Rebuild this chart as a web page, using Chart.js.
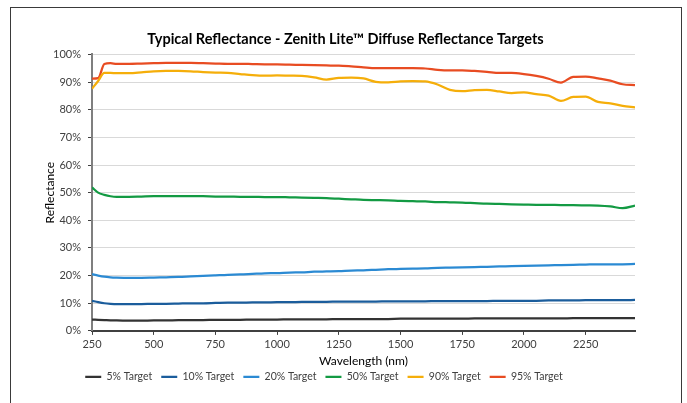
<!DOCTYPE html>
<html>
<head>
<meta charset="utf-8">
<script src="https://cdn.jsdelivr.net/npm/chart.js@4/dist/chart.umd.min.js"></script>
<style>
  html, body { margin: 0; padding: 0; background: #fff; }
  #wrap { width: 687px; height: 403px; }
</style>
</head>
<body>
<div id="wrap"><canvas id="linechart"></canvas></div>
<script>
// wavelength samples (nm)
var wavelengths = [250, 275, 300, 325, 350, 400, 450, 500, 550, 600, 650, 700, 750, 800, 850, 900, 950,
  1000, 1050, 1100, 1150, 1200, 1250, 1300, 1350, 1400, 1450, 1500, 1550, 1600, 1650, 1700, 1750,
  1800, 1850, 1900, 1950, 2000, 2050, 2100, 2150, 2200, 2250, 2300, 2350, 2400, 2450];

// reflectance, percent
var target5 = [4.1, 4.0, 3.9, 3.8, 3.8, 3.7, 3.7, 3.8, 3.8, 3.9, 3.9, 3.9, 4.0, 4.0, 4.0, 4.1, 4.1,
  4.1, 4.2, 4.2, 4.2, 4.2, 4.3, 4.3, 4.3, 4.3, 4.3, 4.4, 4.4, 4.4, 4.4, 4.4, 4.4,
  4.5, 4.5, 4.5, 4.5, 4.5, 4.5, 4.5, 4.5, 4.6, 4.6, 4.6, 4.6, 4.6, 4.6];
var target10 = [10.9, 10.4, 10.0, 9.8, 9.7, 9.7, 9.7, 9.8, 9.8, 9.9, 10.0, 10.0, 10.1, 10.2, 10.2, 10.3, 10.3,
  10.4, 10.4, 10.5, 10.5, 10.5, 10.6, 10.6, 10.6, 10.6, 10.7, 10.7, 10.7, 10.7, 10.8, 10.8, 10.8,
  10.8, 10.8, 10.9, 10.9, 10.9, 10.9, 11.0, 11.0, 11.0, 11.1, 11.1, 11.1, 11.1, 11.2];
var target20 = [20.5, 20.0, 19.6, 19.4, 19.3, 19.2, 19.2, 19.3, 19.4, 19.5, 19.7, 19.9, 20.1, 20.3, 20.4, 20.6, 20.8,
  20.9, 21.1, 21.2, 21.4, 21.5, 21.6, 21.8, 21.9, 22.1, 22.3, 22.4, 22.5, 22.6, 22.8, 22.9, 23.0,
  23.1, 23.2, 23.3, 23.4, 23.5, 23.6, 23.7, 23.8, 23.9, 24.0, 24.1, 24.1, 24.1, 24.2];
var target50 = [51.9, 50.0, 49.2, 48.7, 48.5, 48.5, 48.6, 48.7, 48.7, 48.7, 48.7, 48.7, 48.6, 48.6, 48.5, 48.5, 48.4,
  48.4, 48.3, 48.2, 48.1, 48.0, 47.8, 47.6, 47.4, 47.3, 47.2, 47.0, 46.9, 46.8, 46.6, 46.5, 46.4,
  46.2, 46.0, 45.9, 45.8, 45.7, 45.6, 45.6, 45.5, 45.5, 45.4, 45.3, 45.0, 44.4, 45.3];
var target90 = [87.6, 90.4, 93.3, 93.3, 93.2, 93.2, 93.5, 93.9, 94.0, 94.0, 93.9, 93.6, 93.4, 93.3, 92.9, 92.5, 92.3,
  92.4, 92.3, 92.2, 91.7, 90.9, 91.5, 91.6, 91.3, 90.1, 89.9, 90.2, 90.3, 90.2, 89.1, 87.2, 86.7,
  87.1, 87.2, 86.6, 86.0, 86.3, 85.6, 85.1, 83.2, 84.6, 84.7, 82.8, 82.3, 81.4, 80.8];
var target95 = [91.2, 91.4, 96.5, 96.8, 96.6, 96.6, 96.7, 96.8, 96.9, 96.9, 96.9, 96.8, 96.7, 96.6, 96.6, 96.5, 96.4,
  96.4, 96.3, 96.2, 96.1, 96.0, 95.9, 95.7, 95.3, 95.0, 95.0, 95.0, 95.0, 94.9, 94.4, 94.2, 94.2,
  94.0, 93.7, 93.3, 93.3, 92.9, 92.2, 91.2, 89.8, 91.9, 92.0, 91.3, 90.5, 89.2, 88.9];

var seriesNames = ['5% Target', '10% Target', '20% Target', '50% Target', '90% Target', '95% Target'];
var seriesData = [target5, target10, target20, target50, target90, target95];
var seriesColors = ['#333333', '#1b5d9c', '#2b8ad3', '#139a43', '#f5ae0a', '#e84c22'];

var xTicks = [250, 500, 750, 1000, 1250, 1500, 1750, 2000, 2250];

Chart.defaults.font.family = 'Lato';

function toPoints(vals) {
    return vals.map(function (v, i) { return { x: wavelengths[i], y: v }; });
}

var frame = {
    id: 'frame',
    beforeDraw: function (chart) {
        var ctx = chart.ctx;
        ctx.save();
        ctx.fillStyle = '#ffffff';
        ctx.fillRect(0, 0, chart.width, chart.height);
        ctx.strokeStyle = '#3a3a3a';
        ctx.lineWidth = 1;
        ctx.strokeRect(10.5, 7.5, 671, 420);
        ctx.restore();
    },
    // centre the title on the whole frame, not on the padded area
    afterLayout: function (chart) {
        var t = chart.titleBlock;
        if (t) {
            t.left = 10;
            t.right = 681;
            t.width = 671;
        }
    }
};

var chart1 = document.getElementById("linechart");

var myChart1 = new Chart(chart1, {
    type: 'line',
    data: {
        datasets: seriesNames.map(function (name, i) {
            return {
                label: name,
                data: toPoints(seriesData[i]),
                borderColor: seriesColors[i],
                backgroundColor: seriesColors[i],
                borderWidth: 2.25,
                pointRadius: 0,
                fill: false,
                cubicInterpolationMode: 'monotone'
            };
        })
    },
    options: {
        responsive: true,
        maintainAspectRatio: false,
        animation: false,
        layout: {
            padding: { left: 13, right: 52, top: 0, bottom: 11 }
        },
        scales: {
            x: {
                type: 'linear',
                min: 250,
                max: 2450,
                afterBuildTicks: function (scale) {
                    scale.ticks = xTicks.map(function (v) { return { value: v }; });
                },
                grid: { drawOnChartArea: false, tickLength: 4, tickColor: '#404040' },
                border: { color: '#404040', width: 2 },
                ticks: {
                    color: '#404040',
                    font: { size: 11 },
                    padding: 3,
                    maxRotation: 0,
                    callback: function (v) { return String(v); }
                },
                title: {
                    display: true,
                    text: 'Wavelength (nm)',
                    color: '#000000',
                    font: { size: 12 },
                    padding: { top: 0, bottom: -6 }
                }
            },
            y: {
                min: 0,
                max: 100,
                afterFit: function (scale) { scale.width = 79; },
                grid: { color: '#d9d9d9', tickLength: 4, tickColor: '#404040' },
                border: { color: '#7f7f7f', width: 2 },
                ticks: {
                    stepSize: 10,
                    color: '#404040',
                    font: { size: 11 },
                    padding: 7,
                    callback: function (v) { return v + '%'; }
                },
                title: {
                    display: true,
                    text: 'Reflectance',
                    color: '#000000',
                    font: { size: 12 },
                    padding: { top: 30, bottom: 0 }
                }
            }
        },
        plugins: {
            legend: {
                display: true,
                position: 'bottom',
                labels: {
                    usePointStyle: true,
                    pointStyle: 'line',
                    pointStyleWidth: 16,
                    padding: 9,
                    color: '#404040',
                    font: { size: 10.5 }
                }
            },
            title: {
                display: true,
                text: 'Typical Reflectance - Zenith Lite\u2122 Diffuse Reflectance Targets',
                color: '#000000',
                font: { size: 14.5, weight: 'bold' },
                padding: { top: 31, bottom: 6 }
            },
            tooltip: { enabled: false }
        }
    },
    plugins: [frame]
});
</script>
</body>
</html>
